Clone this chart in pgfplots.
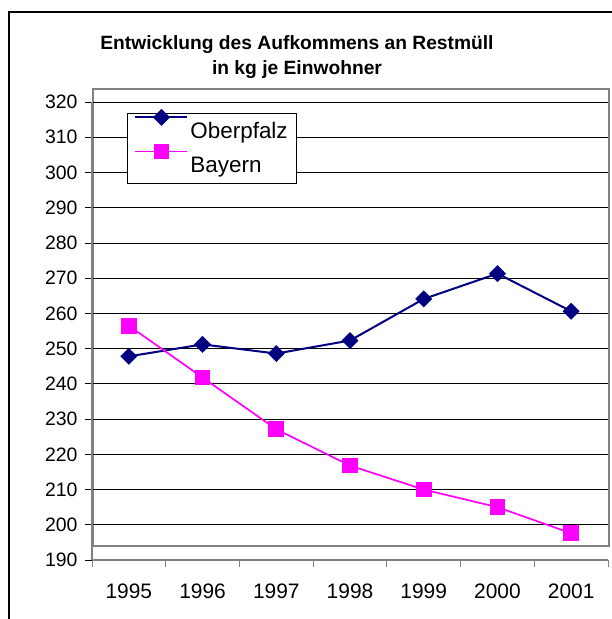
\documentclass[border=0pt]{standalone}
\usepackage{pgfplots}
\pgfplotsset{compat=1.18}
\usepackage{fontspec}
\setmainfont{Liberation Sans}
\definecolor{navy}{RGB}{0,0,128}
\definecolor{mag}{RGB}{255,0,255}
\definecolor{boxgray}{RGB}{128,128,128}
\begin{document}
\begin{tikzpicture}[x=1bp,y=1bp]
\path[use as bounding box] (0,0) rectangle (612,-619);
\fill[white] (0,0) rectangle (612,-619);
\draw[black, line width=1.2bp] (9,-12) rectangle (640,-660);
\draw[boxgray, line width=2bp] (93,-89) rectangle (609,-546);
\node[font=\bfseries\fontsize{19.3}{19}\selectfont, anchor=base] at (297,-49.3) {Entwicklung des Aufkommens an Restmüll};
\node[font=\bfseries\fontsize{19.3}{19}\selectfont, anchor=base] at (297,-75) {in kg je Einwohner};
\begin{axis}[
  at={(92bp,-560bp)}, anchor=south west,
  scale only axis, width=516bp, height=458bp,
  xmin=-0.5, xmax=6.5, ymin=190, ymax=320,
  ytick={190,200,...,320},
  xtick={-0.5,0.5,...,6.5},
  xticklabels={1995,1996,1997,1998,1999,2000,2001,{}},
  axis lines=left,
  axis line style={-, boxgray, line width=1.2bp},
  ymajorgrids,
  grid style={black, line width=0.8bp},
  tick align=outside,
  major tick length=7bp,
  ytick style={black, line width=0.8bp},
  xtick style={boxgray, line width=1bp},
  /pgf/number format/assume math mode=true,
  yticklabel style={font=\fontsize{19.5}{19.5}\selectfont, xshift=-4bp},
  xticklabel style={font=\fontsize{21}{21}\selectfont, xshift=36.86bp, yshift=-13bp},
  legend style={at={(axis description cs:0.068,0.976)}, anchor=north west,
    draw=black, line width=0.8bp, font=\fontsize{22.5}{22.5}\selectfont,
    row sep=14bp, column sep=2bp, inner xsep=8bp, inner ysep=8bp,
    nodes={inner sep=1bp}},
  legend cell align=left,
  legend image code/.code={
    \path[draw=none, fill=none] (0bp,-10bp) rectangle (52bp,10bp);
    \draw[overlay, mark repeat=2, mark phase=2, #1] plot coordinates {(0bp,14bp) (26bp,14bp) (52bp,14bp)};
  },
]
\addplot[navy, line width=2bp, mark=square*, mark size=5bp, mark options={rotate=45, solid, fill=navy},
  legend image post style={line width=2bp}]
  coordinates {(0,247.8) (1,251.2) (2,248.6) (3,252.3) (4,264.1) (5,271.3) (6,260.6)};
\addlegendentry{Oberpfalz}
\addplot[mag, line width=1.7bp, mark=square*, mark size=7bp, mark options={solid, fill=mag},
  legend image post style={line width=1.7bp}]
  coordinates {(0,256.5) (1,241.8) (2,227.1) (3,216.8) (4,210.0) (5,205.0) (6,197.6)};
\addlegendentry{Bayern}
\end{axis}
\end{tikzpicture}
\end{document}
